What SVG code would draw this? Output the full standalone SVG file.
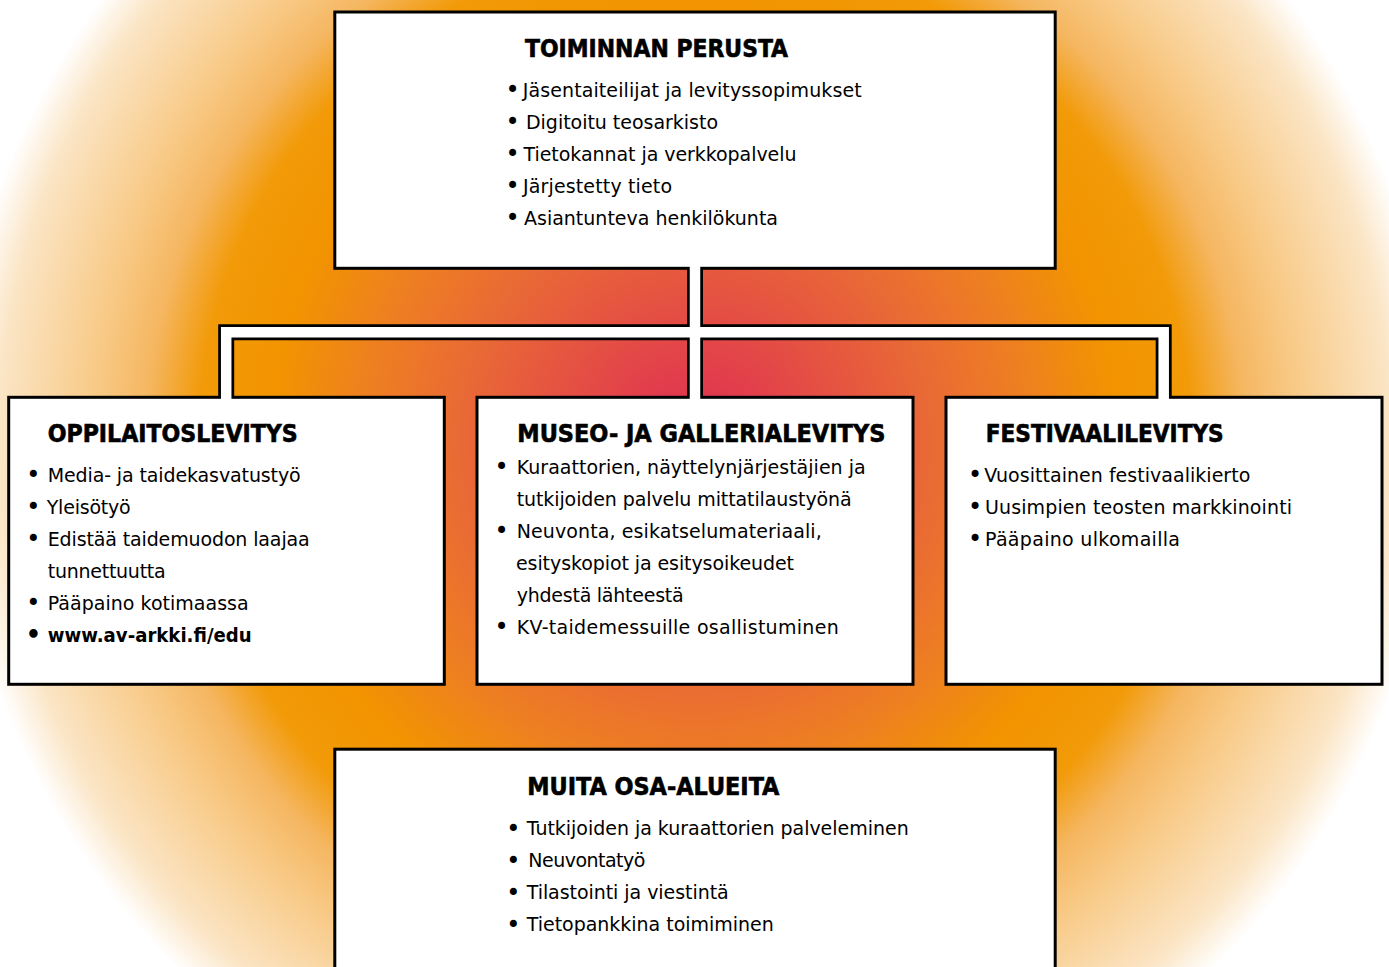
<svg xmlns="http://www.w3.org/2000/svg" width="1389" height="967" viewBox="0 0 1389 967">
<defs>
<radialGradient id="bg" gradientUnits="userSpaceOnUse" cx="695" cy="440" r="740">
<stop offset="0" stop-color="#DF2E52"/>
<stop offset="0.08" stop-color="#E13C4D"/>
<stop offset="0.32" stop-color="#E96A35"/>
<stop offset="0.45" stop-color="#EE8020"/>
<stop offset="0.57" stop-color="#F29400"/>
<stop offset="0.67" stop-color="#F29A08"/>
<stop offset="0.74" stop-color="#F5B660"/>
<stop offset="0.81" stop-color="#F8C985"/>
<stop offset="0.94" stop-color="#FBE5C5"/>
<stop offset="1" stop-color="#FFFFFF"/>
</radialGradient>
<style>
.box{fill:#fff;stroke:#000;stroke-width:3}
.t{font-family:"DejaVu Sans Condensed","DejaVu Sans",sans-serif;font-stretch:condensed;font-weight:bold;font-size:25px;fill:#000;stroke:#000;stroke-width:0.6}
.b{font-family:"DejaVu Sans",sans-serif;font-size:19px;fill:#000}
.u{font-weight:bold}
.d{font-family:"DejaVu Sans",sans-serif;font-size:24px;fill:#000;text-anchor:middle}
.pipeO{fill:none;stroke:#000;stroke-width:16;stroke-linejoin:miter}
.pipeI{fill:none;stroke:#fff;stroke-width:10.5;stroke-linejoin:miter}
</style>
</defs>
<rect x="0" y="0" width="1389" height="967" fill="url(#bg)"/>

<g id="top">
<rect class="box" x="334.8" y="12" width="720.4" height="256.3"/>
<text class="t" x="525" y="57" textLength="263" lengthAdjust="spacingAndGlyphs">TOIMINNAN PERUSTA</text>
<text class="d" x="512.7" y="98">•</text><text class="b" x="522.7" y="96.5" textLength="339" lengthAdjust="spacing">Jäsentaiteilijat ja levityssopimukset</text>
<text class="d" x="512.7" y="130">•</text><text class="b" x="526" y="128.5" textLength="192" lengthAdjust="spacing">Digitoitu teosarkisto</text>
<text class="d" x="512.7" y="162">•</text><text class="b" x="523.5" y="160.5" textLength="273" lengthAdjust="spacing">Tietokannat ja verkkopalvelu</text>
<text class="d" x="512.7" y="194">•</text><text class="b" x="523" y="192.5" textLength="149" lengthAdjust="spacing">Järjestetty tieto</text>
<text class="d" x="512.7" y="226">•</text><text class="b" x="524" y="224.5" textLength="254" lengthAdjust="spacing">Asiantunteva henkilökunta</text>
</g>

<g id="left">
<rect class="box" x="8.7" y="397.3" width="435.6" height="287"/>
<text class="t" x="47.7" y="441.7" textLength="250" lengthAdjust="spacingAndGlyphs">OPPILAITOSLEVITYS</text>
<text class="d" x="33.3" y="483">•</text><text class="b" x="47.7" y="481.5" textLength="253" lengthAdjust="spacing">Media- ja taidekasvatustyö</text>
<text class="d" x="33.3" y="515">•</text><text class="b" x="46.7" y="513.5" textLength="84" lengthAdjust="spacing">Yleisötyö</text>
<text class="d" x="33.3" y="547">•</text><text class="b" x="47.7" y="545.5" textLength="262" lengthAdjust="spacing">Edistää taidemuodon laajaa</text>
<text class="b" x="47.7" y="577.5" textLength="118" lengthAdjust="spacing">tunnettuutta</text>
<text class="d" x="33.3" y="611">•</text><text class="b" x="47.7" y="609.5" textLength="201" lengthAdjust="spacing">Pääpaino kotimaassa</text>
<text class="d u" x="33.3" y="643">•</text><text class="b u" x="47.7" y="641.5" textLength="204" lengthAdjust="spacingAndGlyphs">www.av-arkki.fi/edu</text>
</g>

<g id="middle">
<rect class="box" x="477" y="397.3" width="436" height="287"/>
<text class="t" x="517.3" y="441.7" textLength="368" lengthAdjust="spacingAndGlyphs">MUSEO- JA GALLERIALEVITYS</text>
<text class="d" x="501.7" y="475.3">•</text><text class="b" x="516.7" y="473.8" textLength="349" lengthAdjust="spacing">Kuraattorien, näyttelynjärjestäjien ja</text>
<text class="b" x="516.7" y="505.8" textLength="335" lengthAdjust="spacing">tutkijoiden palvelu mittatilaustyönä</text>
<text class="d" x="501.7" y="539.3">•</text><text class="b" x="516.7" y="537.8" textLength="305" lengthAdjust="spacing">Neuvonta, esikatselumateriaali,</text>
<text class="b" x="516" y="569.8" textLength="278" lengthAdjust="spacing">esityskopiot ja esitysoikeudet</text>
<text class="b" x="516.7" y="601.8" textLength="167" lengthAdjust="spacing">yhdestä lähteestä</text>
<text class="d" x="501.7" y="635.3">•</text><text class="b" x="516.7" y="633.8" textLength="322" lengthAdjust="spacing">KV-taidemessuille osallistuminen</text>
</g>

<g id="right">
<rect class="box" x="946" y="397.3" width="436" height="287"/>
<text class="t" x="985.7" y="441.7" textLength="238" lengthAdjust="spacingAndGlyphs">FESTIVAALILEVITYS</text>
<text class="d" x="975" y="483">•</text><text class="b" x="984.3" y="481.5" textLength="266" lengthAdjust="spacing">Vuosittainen festivaalikierto</text>
<text class="d" x="975" y="515">•</text><text class="b" x="985" y="513.5" textLength="307" lengthAdjust="spacing">Uusimpien teosten markkinointi</text>
<text class="d" x="975" y="547">•</text><text class="b" x="985" y="545.5" textLength="195" lengthAdjust="spacing">Pääpaino ulkomailla</text>
</g>

<g id="bottom">
<rect class="box" x="334.8" y="749.2" width="720.4" height="240"/>
<text class="t" x="527.3" y="795" textLength="252" lengthAdjust="spacingAndGlyphs">MUITA OSA-ALUEITA</text>
<text class="d" x="513.3" y="836.5">•</text><text class="b" x="526.7" y="835" textLength="382" lengthAdjust="spacing">Tutkijoiden ja kuraattorien palveleminen</text>
<text class="d" x="513.3" y="868.5">•</text><text class="b" x="528.3" y="867" textLength="117" lengthAdjust="spacing">Neuvontatyö</text>
<text class="d" x="513.3" y="900.5">•</text><text class="b" x="526.7" y="899" textLength="202" lengthAdjust="spacing">Tilastointi ja viestintä</text>
<text class="d" x="513.3" y="932.5">•</text><text class="b" x="526.7" y="931" textLength="247" lengthAdjust="spacing">Tietopankkina toimiminen</text>
</g>

<g id="connectors">
<path class="pipeO" d="M226.2 396 V332.2 H1163.7 V396"/>
<path class="pipeO" d="M695 268.3 V396"/>
<path class="pipeI" d="M226.2 400 V332.2 H1163.7 V400"/>
<path class="pipeI" d="M695 265 V400"/>
</g>
</svg>
